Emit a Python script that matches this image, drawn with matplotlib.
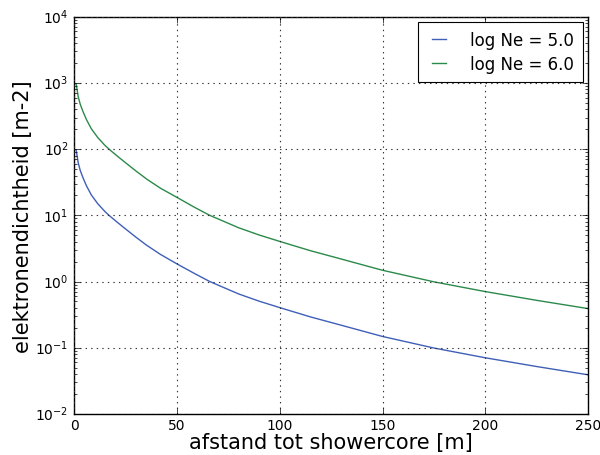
import matplotlib
matplotlib.use("Agg")
import matplotlib.pyplot as plt

plt.style.use("classic")

# Values
afstand = [1, 2, 3, 4.4, 6, 8.4, 11.5, 14.9, 17, 20.5, 24.7, 30, 35.2, 42, 50,
           58.6, 66, 80, 90, 100, 115, 128.5, 150, 175, 200, 225, 250]
dichtheid_ne6 = [975, 620, 475, 365, 280, 203, 150, 115, 100, 81, 63.5, 47,
                 35.5, 25.7, 18.7, 13.2, 10.0, 6.5, 5.05, 4.04, 2.92, 2.25,
                 1.48, 0.99, 0.705, 0.52, 0.39]
dichtheid_ne5 = [97.5, 62, 47.5, 36.5, 28, 20.3, 15, 11.5, 10.0, 8.1, 6.35,
                 4.7, 3.55, 2.57, 1.85, 1.32, 1.0, 0.65, 0.505, 0.404, 0.292,
                 0.225, 0.148, 0.099, 0.0705, 0.052, 0.039]
labels = ["log Ne = 5.0", "log Ne = 6.0"]
xticks = [0, 50, 100, 150, 200, 250]

fig = plt.figure(figsize=(6.0, 4.56), dpi=100, facecolor="white")
ax = fig.add_axes([0.1235, 0.09, 0.857, 0.871])

ax.plot(afstand, dichtheid_ne5, color="#3f5fb8", lw=1.0, label=labels[0])
ax.plot(afstand, dichtheid_ne6, color="#2a8a4a", lw=1.0, label=labels[1])

ax.set_yscale("log")
ax.set_xlim(0, 250)
ax.set_ylim(1e-2, 1e4)
ax.set_xticks(xticks)
ax.grid(True, which="major", color="#333333", linestyle=":", linewidth=0.8)
ax.tick_params(labelsize=10)
ax.tick_params(axis="x", pad=3)

ax.set_xlabel("afstand tot showercore [m]", fontsize=15, labelpad=0)
ax.set_ylabel("elektronendichtheid [m-2]", fontsize=15, labelpad=2)

leg = ax.legend(loc="upper right", fontsize=12, fancybox=False,
                handlelength=1.45, handletextpad=1.15, labelspacing=0.35,
                borderpad=0.55, borderaxespad=0.3)
leg.get_frame().set_linewidth(0.8)

fig.savefig("out.png", dpi=100, facecolor="white")
